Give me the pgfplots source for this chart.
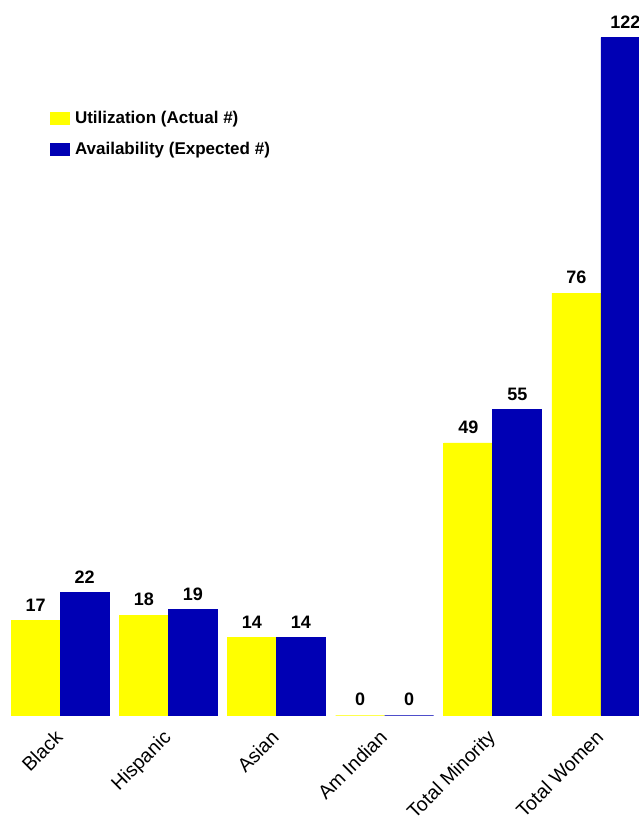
\documentclass[border=0pt]{standalone}
\usepackage{fontspec}
\setmainfont{Liberation Sans}
\usepackage{pgfplots}
\pgfplotsset{compat=1.18}
\definecolor{uyel}{RGB}{255,255,0}
\definecolor{ablue}{RGB}{0,0,180}
\begin{document}
\begin{tikzpicture}
\begin{axis}[
  at={(0,0)}, anchor=south west,
  scale only axis, width=639pt, height=715pt,
  xmin=-0.556, xmax=5.352, ymin=0, ymax=128.8,
  axis line style={draw=none},
  ytick=\empty,
  xtick={0,1,2,3,4,5},
  xticklabels={Black,Hispanic,Asian,Am Indian,Total Minority,Total Women},
  x tick label style={rotate=45, anchor=north east, font=\fontsize{19.5}{19.5}\selectfont, inner sep=0pt, yshift=-5pt, xshift=-14pt},
  major tick length=0pt,
  ybar=0pt, bar width=49pt,
  /pgf/number format/assume math mode=true,
  nodes near coords,
  every node near coord/.append style={font=\bfseries\fontsize{18}{18}\selectfont, black, yshift=5.5pt},
  clip=false,
  legend style={draw=none, fill=none, at={(50/639,1-109/715)}, anchor=north west, inner sep=0pt,
    font=\bfseries\fontsize{17}{17}\selectfont, row sep=13pt, /tikz/every odd column/.append style={column sep=3pt}},
  legend cell align=left,
  legend image code/.code={\fill[#1] (0pt,-6pt) rectangle (19pt,6pt);},
]
\addplot[fill=uyel, draw=uyel, line width=0.8pt] coordinates {(0,17) (1,18) (2,14) (3,0) (4,49) (5,76)};
\addplot[fill=ablue, draw=ablue, line width=0.8pt] coordinates {(0,22) (1,19) (2,14) (3,0) (4,55) (5,122)};
\legend{Utilization (Actual \#),Availability (Expected \#)}
\end{axis}
\pgfresetboundingbox
\path[use as bounding box] (0,-107pt) rectangle (639pt,715pt);
\end{tikzpicture}
\end{document}
